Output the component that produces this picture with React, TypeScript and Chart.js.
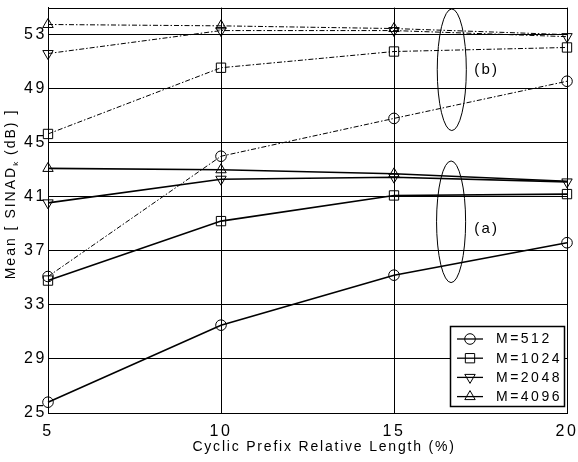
import { useEffect, useRef } from 'react';
import { Chart, registerables } from 'chart.js';

Chart.register(...registerables);

// Cyclic prefix relative length (%) on the x axis
const cpLengths = [5, 10, 15, 20];
const mLabels = ['M=512', 'M=1024', 'M=2048', 'M=4096'];

// Group (a): solid curves
const sinadA512 = [25.8, 31.5, 35.2, 37.6];
const sinadA1024 = [34.8, 39.2, 41.1, 41.2];
const sinadA2048 = [40.55, 42.3, 42.45, 42.1];
const sinadA4096 = [43.1, 43.0, 42.7, 42.15];

// Group (b): dash-dot curves
const sinadB512 = [35.1, 44.0, 46.8, 49.55];
const sinadB1024 = [45.65, 50.55, 51.75, 52.05];
const sinadB2048 = [51.6, 53.3, 53.3, 52.85];
const sinadB4096 = [53.75, 53.65, 53.45, 53.0];

const yTicks = [25, 29, 33, 37, 41, 45, 49, 53];
const xTicks = [5, 10, 15, 20];

const FONT = '"Liberation Sans", Arial, sans-serif';

type Marker = { style: string; rotation: number; radius: number };
const markers: Marker[] = [
  { style: 'circle', rotation: 0, radius: 5.3 },
  { style: 'rect', rotation: 0, radius: 6.6 },
  { style: 'triangle', rotation: 180, radius: 6 },
  { style: 'triangle', rotation: 0, radius: 6 },
];

function drawMarker(ctx: CanvasRenderingContext2D, m: Marker, x: number, y: number) {
  ctx.beginPath();
  if (m.style === 'circle') {
    ctx.arc(x, y, m.radius, 0, Math.PI * 2);
  } else if (m.style === 'rect') {
    const s = Math.SQRT1_2 * m.radius;
    ctx.rect(x - s, y - s, 2 * s, 2 * s);
  } else {
    let rad = (m.rotation * Math.PI) / 180;
    ctx.moveTo(x + Math.sin(rad) * m.radius, y - Math.cos(rad) * m.radius);
    for (let i = 0; i < 2; i++) {
      rad += (2 * Math.PI) / 3;
      ctx.lineTo(x + Math.sin(rad) * m.radius, y - Math.cos(rad) * m.radius);
    }
    ctx.closePath();
  }
  ctx.stroke();
}

const toPoints = (ys: number[]) => cpLengths.map((x, i) => ({ x, y: ys[i] }));

const decorations = {
  id: 'decorations',
  beforeDraw(chart: any) {
    // spaced-out tick lettering
    chart.ctx.letterSpacing = '2.6px';
  },
  beforeDatasetsDraw(chart: any) {
    const { ctx, chartArea: a } = chart;
    ctx.save();
    ctx.strokeStyle = '#000';
    ctx.lineWidth = 1;
    ctx.strokeRect(Math.round(a.left) + 0.5, Math.round(a.top) + 0.5, Math.round(a.right - a.left), Math.round(a.bottom - a.top));
    ctx.restore();
  },
  afterDatasetsDraw(chart: any) {
    const { ctx, chartArea: a, scales } = chart;
    const xs = scales.x;
    const ys = scales.y;
    ctx.save();
    ctx.strokeStyle = '#000';
    ctx.fillStyle = '#000';
    ctx.lineWidth = 1;

    // group ellipses with their labels
    const groups = [
      { cx: 16.67, cy: 50.4, label: '(b)', ly: 50.4 },
      { cx: 16.65, cy: 39.15, label: '(a)', ly: 38.6 },
    ];
    const rx = xs.getPixelForValue(16.67 + 0.42) - xs.getPixelForValue(16.67);
    const ry = ys.getPixelForValue(0) - ys.getPixelForValue(4.5);
    ctx.font = `15px ${FONT}`;
    ctx.letterSpacing = '2.2px';
    ctx.textBaseline = 'middle';
    ctx.textAlign = 'center';
    for (const g of groups) {
      ctx.beginPath();
      ctx.ellipse(xs.getPixelForValue(g.cx), ys.getPixelForValue(g.cy), rx, ry, 0, 0, Math.PI * 2);
      ctx.stroke();
      ctx.fillText(g.label, xs.getPixelForValue(17.65) + 1, ys.getPixelForValue(g.ly));
    }

    // legend box
    const bw = 114;
    const bh = 80;
    const bx = Math.round(a.right) - 3 - bw;
    const by = Math.round(a.bottom) - 7 - bh;
    ctx.fillStyle = '#fff';
    ctx.fillRect(bx, by, bw, bh);
    ctx.lineWidth = 1.5;
    ctx.strokeRect(bx + 0.5, by + 0.5, bw, bh);
    ctx.fillStyle = '#000';
    ctx.font = `14px ${FONT}`;
    ctx.letterSpacing = '2.5px';
    ctx.textAlign = 'left';
    mLabels.forEach((lab, i) => {
      const yy = by + 13 + i * 19.2;
      ctx.lineWidth = 1.3;
      ctx.beginPath();
      ctx.moveTo(bx + 7, yy);
      ctx.lineTo(bx + 33, yy);
      ctx.stroke();
      ctx.lineWidth = 1;
      drawMarker(ctx, markers[i], bx + 20, yy);
      ctx.fillText(lab, bx + 46, yy + 0.5);
    });
    ctx.restore();
  },
  afterDraw(chart: any) {
    const { ctx } = chart;
    ctx.save();
    ctx.fillStyle = '#000';
    ctx.font = `14px ${FONT}`;
    ctx.letterSpacing = '1.8px';
    ctx.textBaseline = 'middle';
    ctx.textAlign = 'left';
    // x axis title
    const xt = 'Cyclic Prefix Relative Length (%)';
    const xw = ctx.measureText(xt).width;
    ctx.fillText(xt, 324 - xw / 2, 447);

    // y axis title with subscript k
    ctx.letterSpacing = '2px';
    ctx.translate(11, 194);
    ctx.rotate(-Math.PI / 2);
    const p1 = 'Mean [ SINAD';
    const p3 = ' (dB) ]';
    const w1 = ctx.measureText(p1).width;
    const w3 = ctx.measureText(p3).width;
    ctx.font = `8px ${FONT}`;
    ctx.letterSpacing = '0px';
    const wk = ctx.measureText('k').width + 1;
    const total = w1 + wk + w3;
    let x0 = -total / 2;
    ctx.font = `14px ${FONT}`;
    ctx.letterSpacing = '2px';
    ctx.fillText(p1, x0, 0);
    x0 += w1;
    ctx.font = `8px ${FONT}`;
    ctx.letterSpacing = '0px';
    ctx.fillText('k', x0, 5);
    x0 += wk;
    ctx.font = `14px ${FONT}`;
    ctx.letterSpacing = '2px';
    ctx.fillText(p3, x0, 0);
    ctx.restore();
  },
};

export default function App() {
  const canvasRef = useRef<HTMLCanvasElement | null>(null);

  useEffect(() => {
    const canvas = canvasRef.current;
    if (!canvas) return;

    const solid = [sinadA512, sinadA1024, sinadA2048, sinadA4096];
    const dashDot = [sinadB512, sinadB1024, sinadB2048, sinadB4096];

    const makeSet = (ys: number[], i: number, dashed: boolean) => {
      const m = markers[i];
      // the last M=4096 marker sits under the M=2048 one and is not shown
      const r = cpLengths.map((_, k) => (i === 3 && k === 3 ? 0 : m.radius));
      return {
        label: `${mLabels[i]}${dashed ? ' (b)' : ' (a)'}`,
        data: toPoints(ys),
        borderColor: '#000',
        borderWidth: dashed ? 1 : 1.6,
        borderDash: dashed ? [5, 2, 1.5, 2] : [],
        pointStyle: m.style,
        rotation: m.rotation,
        pointRadius: r,
        pointBorderColor: '#000',
        pointBackgroundColor: 'rgba(0,0,0,0)',
        pointBorderWidth: 1,
        fill: false,
        tension: 0,
        clip: false,
      };
    };

    const datasets: any[] = [];
    solid.forEach((ys, i) => datasets.push(makeSet(ys, i, false)));
    dashDot.forEach((ys, i) => datasets.push(makeSet(ys, i, true)));

    const chart = new Chart(canvas, {
      type: 'line',
      data: { datasets },
      options: {
        animation: false,
        responsive: false,
        maintainAspectRatio: false,
        devicePixelRatio: 1,
        layout: { padding: { top: 5, right: 11, left: 0, bottom: 0 } },
        plugins: {
          legend: { display: false },
          tooltip: { enabled: false },
          title: { display: false },
        },
        scales: {
          x: {
            type: 'linear',
            min: 5,
            max: 20,
            afterBuildTicks: (s: any) => {
              s.ticks = xTicks.map((v) => ({ value: v }));
            },
            afterFit: (s: any) => {
              s.height = 49;
              s.paddingLeft = 0;
              s.paddingRight = 0;
            },
            grid: { color: '#000', lineWidth: 1, drawTicks: false },
            border: { display: true, color: '#000', width: 1 },
            ticks: {
              color: '#000',
              font: { family: FONT, size: 16 },
              padding: 9,
              maxRotation: 0,
              autoSkip: false,
            },
          },
          y: {
            type: 'linear',
            min: 25,
            max: 55,
            afterBuildTicks: (s: any) => {
              s.ticks = yTicks.map((v) => ({ value: v }));
            },
            afterFit: (s: any) => {
              s.width = 48;
              s.paddingTop = 0;
              s.paddingBottom = 0;
            },
            grid: { color: '#000', lineWidth: 1, drawTicks: false },
            border: { display: true, color: '#000', width: 1 },
            ticks: {
              color: '#000',
              font: { family: FONT, size: 16 },
              padding: 1,
              autoSkip: false,
            },
          },
        },
      },
      plugins: [decorations],
    });

    return () => chart.destroy();
  }, []);

  return (
    <div style={{ position: 'fixed', left: 0, top: 0, width: 578, height: 462, background: '#fff' }}>
      <canvas ref={canvasRef} width={578} height={462} style={{ display: 'block' }} />
    </div>
  );
}
